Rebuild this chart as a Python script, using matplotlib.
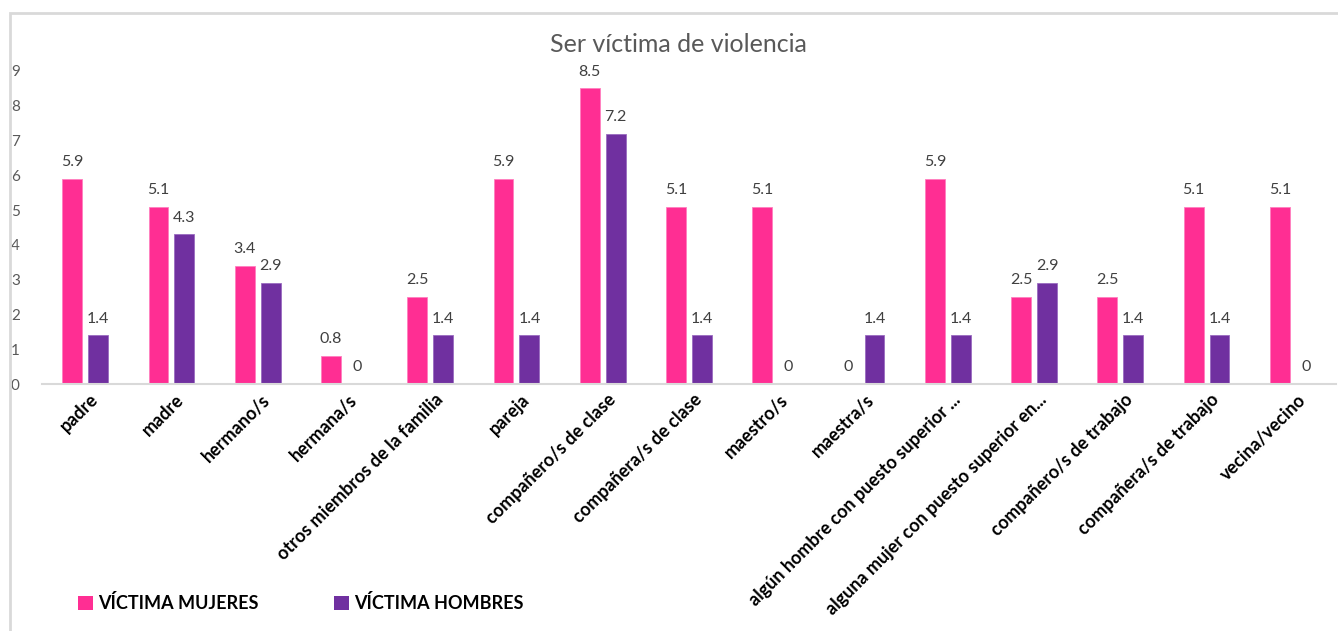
import matplotlib
matplotlib.use("Agg")
import matplotlib.pyplot as plt
import matplotlib.transforms as mtransforms
import numpy as np
from matplotlib.patches import Rectangle
from matplotlib.patches import Patch

categories = [
    "padre", "madre", "hermano/s", "hermana/s", "otros miembros de la familia",
    "pareja", "compañero/s de clase", "compañera/s de clase", "maestro/s",
    "maestra/s", "algún hombre con puesto superior ...",
    "alguna mujer con puesto superior en...", "compañero/s de trabajo",
    "compañera/s de trabajo", "vecina/vecino",
]
victima_mujeres = [5.9, 5.1, 3.4, 0.8, 2.5, 5.9, 8.5, 5.1, 5.1, 0, 5.9, 2.5, 2.5, 5.1, 5.1]
victima_hombres = [1.4, 4.3, 2.9, 0, 1.4, 1.4, 7.2, 1.4, 0, 1.4, 1.4, 2.9, 1.4, 1.4, 0]
series_names = ["VÍCTIMA MUJERES", "VÍCTIMA HOMBRES"]
colors = ["#FF2E93", "#7030A0"]

plt.rcParams["font.family"] = ["Lato", "DejaVu Sans"]

W, H = 1338, 631
fig = plt.figure(figsize=(W / 100, H / 100), dpi=100)

# outer chart frame
fig.add_artist(Rectangle((10 / W, -0.1), 1.2, 1 - 13 / H + 0.1,
                         transform=fig.transFigure, fill=False,
                         edgecolor="#D9D9D9", linewidth=2))

ax = fig.add_axes([42 / W, 1 - 384 / H, (1336 - 42) / W, (384 - 71) / H])
x = np.arange(len(categories))
bw = 0.23
off = 0.15
b1 = ax.bar(x - off, victima_mujeres, bw, color=colors[0], edgecolor="#FF7FBF", linewidth=0.6)
b2 = ax.bar(x + off, victima_hombres, bw, color=colors[1], edgecolor="#9A6BC0", linewidth=0.6)

for bars, vals in ((b1, victima_mujeres), (b2, victima_hombres)):
    for rect, v in zip(bars, vals):
        ax.annotate(f"{v:g}", (rect.get_x() + rect.get_width() / 2, v),
                    xytext=(0, 7), textcoords="offset points",
                    ha="center", va="bottom", fontsize=11.5, color="#404040")

ax.set_xlim(-0.5, len(categories) - 0.5)
ax.set_ylim(0, 9)
ax.set_yticks(range(10))
ax.tick_params(axis="y", length=0, labelsize=11, labelcolor="#595959", pad=16)
ax.tick_params(axis="x", length=0, pad=5)
ax.set_xticks(x)
ax.set_xticklabels(categories, rotation=45, ha="right", rotation_mode="anchor",
                   fontsize=13, fontweight="bold", color="#000000")
shift = mtransforms.ScaledTranslation(4 / 100, 0, fig.dpi_scale_trans)
for lbl in ax.get_xticklabels():
    lbl.set_transform(lbl.get_transform() + shift)
for side in ("top", "right", "left"):
    ax.spines[side].set_visible(False)
ax.spines["bottom"].set_color("#D9D9D9")
ax.spines["bottom"].set_linewidth(1.5)

fig.text(678 / W, 1 - 45 / H, "Ser víctima de violencia", ha="center", va="center",
         fontsize=18, color="#595959")

handles = [Patch(facecolor=c) for c in colors]
fig.legend(handles, series_names, loc="center left", bbox_to_anchor=(62 / W, 1 - 603 / H),
           ncol=2, frameon=False, handlelength=0.8, handleheight=0.8, handletextpad=0.3,
           columnspacing=4.2, prop={"size": 13, "weight": "bold"})

fig.savefig("out.png", dpi=100)
